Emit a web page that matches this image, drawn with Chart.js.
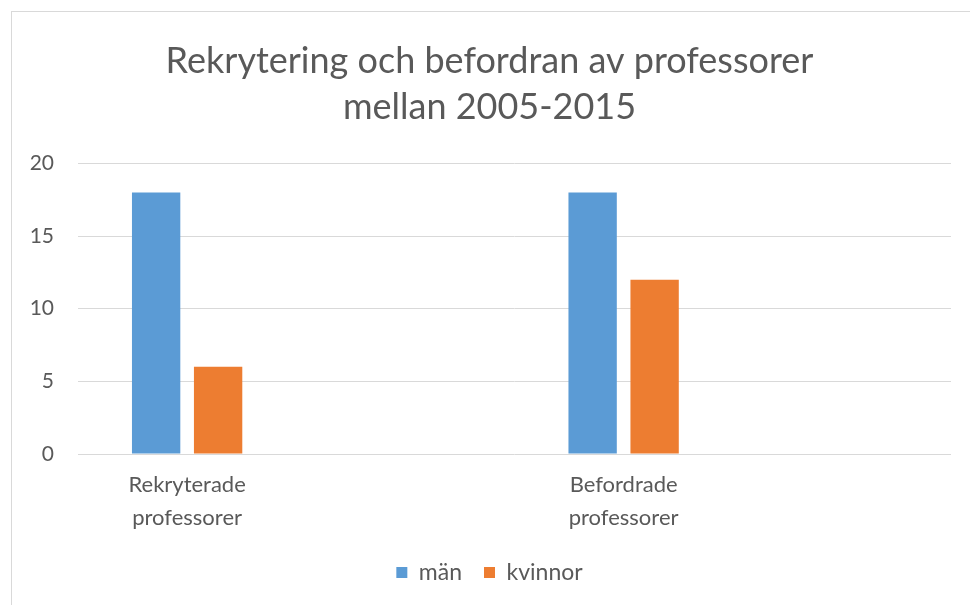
<!DOCTYPE html>
<html>
<head>
<meta charset="utf-8">
<script src="https://cdn.jsdelivr.net/npm/chart.js@4"></script>
<style>
  body { margin: 0; background: #fff; }
  #frame { position: absolute; left: 11px; top: 11px; width: 1000px; height: 700px; border: 1px solid #d9d9d9; }
  #wrap { position: absolute; left: 0; top: 0; width: 970px; height: 605px; }
</style>
</head>
<body>
<div id="frame"></div>
<div id="wrap"><canvas id="chart"></canvas></div>
<script>
const categories = [['Rekryterade', 'professorer'], ['Befordrade', 'professorer']];
const man = [18, 18];
const kvinnor = [6, 12];
const yTicks = [0, 5, 10, 15, 20];

const FONT = "'Lato', sans-serif";
const TEXT = '#595959';

function points(values) {
  return values.map((v, i) => ({ x: i, y: v }));
}

new Chart(document.getElementById('chart'), {
  type: 'bar',
  data: {
    datasets: [
      { label: 'män', data: points(man), backgroundColor: '#5B9BD5' },
      { label: 'kvinnor', data: points(kvinnor), backgroundColor: '#ED7D31' }
    ]
  },
  options: {
    responsive: true,
    maintainAspectRatio: false,
    animation: false,
    categoryPercentage: 0.284,
    barPercentage: 0.78,
    layout: { padding: { left: 28, right: 19, top: 0, bottom: 11 } },
    plugins: {
      tooltip: { enabled: false },
      title: {
        display: true,
        text: ['Rekrytering och befordran av professorer', 'mellan 2005-2015'],
        color: TEXT,
        font: { family: FONT, size: 36, weight: 'normal', lineHeight: 1.27 },
        padding: { top: 39, bottom: 33 }
      },
      legend: {
        position: 'bottom',
        labels: {
          boxWidth: 11,
          boxHeight: 11,
          padding: 22,
          color: TEXT,
          font: { family: FONT, size: 23 }
        }
      }
    },
    scales: {
      x: {
        type: 'linear',
        offset: false,
        min: -0.25,
        max: 1.75,
        grid: { display: false },
        border: { display: false },
        afterBuildTicks: (scale) => { scale.ticks = categories.map((c, i) => ({ value: i })); },
        afterFit: (scale) => { scale.height = 85; },
        ticks: {
          padding: 6,
          color: TEXT,
          font: { family: FONT, size: 22, lineHeight: 1.5 },
          callback: (v) => categories[v]
        }
      },
      y: {
        min: 0,
        max: 20,
        afterBuildTicks: (scale) => { scale.ticks = yTicks.map(v => ({ value: v })); },
        afterFit: (scale) => { scale.width = 50; },
        grid: { color: '#d9d9d9', drawTicks: false },
        border: { display: false },
        ticks: {
          padding: 24,
          color: TEXT,
          font: { family: FONT, size: 21 }
        }
      }
    }
  }
});
</script>
</body>
</html>
